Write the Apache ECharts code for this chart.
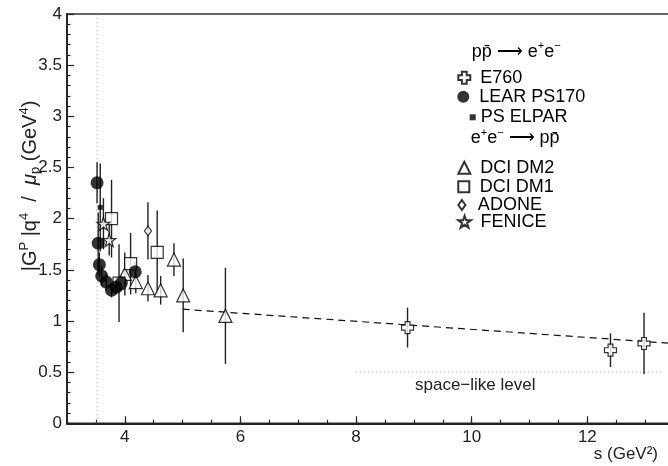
<!DOCTYPE html>
<html>
<head>
<meta charset="utf-8">
<script src="https://cdn.jsdelivr.net/npm/echarts@6/dist/echarts.min.js"></script>
<style>
  html, body { margin: 0; padding: 0; background: #fff; }
  #chart { width: 668px; height: 466px; }
</style>
</head>
<body>
<div id="chart"></div>
<script>
// s in GeV^2, |G|q^4/mu_p in GeV^4, symmetric errors
const e760S = [8.89, 12.40, 12.98];
const e760G = [0.935, 0.715, 0.78];
const e760E = [0.195, 0.165, 0.30];

const learS = [3.52, 3.54, 3.56, 3.60, 3.68, 3.77, 3.85, 3.94, 4.18];
const learG = [2.35, 1.76, 1.55, 1.44, 1.38, 1.30, 1.33, 1.37, 1.48];
const learE = [0.20, 0.30, 0.12, 0.10, 0.08, 0.07, 0.07, 0.08, 0.10];

const elparS = [3.575];
const elparG = [2.11];
const elparE = [0.43];

const dm2S = [4.00, 4.19, 4.40, 4.62, 4.85, 5.01, 5.74];
const dm2G = [1.46, 1.38, 1.32, 1.30, 1.60, 1.25, 1.05];
const dm2E = [0.21, 0.11, 0.13, 0.14, 0.16, 0.36, 0.47];

const dm1S = [3.77, 3.90, 4.10, 4.56];
const dm1G = [2.00, 1.37, 1.56, 1.67];
const dm1E = [0.38, 0.38, 0.30, 0.41];

const adoneS = [4.40];
const adoneG = [1.88];
const adoneE = [0.28];

const feniceS = [3.63, 3.73];
const feniceG = [1.95, 1.79];
const feniceE = [0.25, 0.15];

// straight-line fit through the time-like points above 5 GeV^2
const fitLine = [[5.0, 1.115], [14.0, 0.76]];
// physical threshold 4 m_p^2
const thresholdS = 3.52;
const spaceLikeLevel = 0.5;
const spaceLikeRange = [8.0, 13.3];

const xMajorTicks = [4, 6, 8, 10, 12, 14];

const FONT = 'Liberation Sans';

const pts = (s, g) => s.map((v, i) => [v, g[i]]);
const bars = (s, g, e) => s.map((v, i) => [v, g[i] - e[i], g[i] + e[i]]);

const crossPath = 'path://M3,0 L7,0 L7,3 L10,3 L10,7 L7,7 L7,10 L3,10 L3,7 L0,7 L0,3 L3,3 Z';
const starPath = 'path://M100,0 L122.3,69.3 L195.1,69.1 L136.1,111.7 L158.8,180.9 L100,138 L41.2,180.9 L63.9,111.7 L4.9,69.1 L77.7,69.3 Z';
const diamondPath = 'path://M5,0 L10,7 L5,14 L0,7 Z';
const trianglePath = 'path://M5,0 L10,10 L0,10 Z';
const squarePath = 'path://M0,0 L10,0 L10,10 L0,10 Z';

const openStyle = { color: '#fff', borderColor: '#000', borderWidth: 1.2 };

function errorBars(data) {
  return {
    type: 'custom',
    data: data,
    encode: { x: 0, y: [1, 2] },
    z: 2,
    silent: true,
    renderItem: function (params, api) {
      const a = api.coord([api.value(0), api.value(1)]);
      const b = api.coord([api.value(0), api.value(2)]);
      return {
        type: 'line',
        shape: { x1: a[0], y1: a[1], x2: b[0], y2: b[1] },
        style: { stroke: '#222', lineWidth: 1.4 }
      };
    }
  };
}

function marks(name, s, g, symbol, size, style, z) {
  return {
    type: 'scatter', name: name, data: pts(s, g),
    symbol: symbol, symbolSize: size, itemStyle: style, z: z || 5,
    silent: true
  };
}

function legendItem(name, left, centerY, w, h) {
  return {
    data: [name], left: left, top: centerY - 9, padding: 0,
    itemWidth: w, itemHeight: h, selectedMode: false, symbolKeepAspect: true,
    textStyle: { fontFamily: FONT, fontSize: 18, color: '#000', lineHeight: 18 }
  };
}

const chart = echarts.init(document.getElementById('chart'), null, { renderer: 'canvas' });

chart.setOption({
  animation: false,
  backgroundColor: '#fff',
  grid: {
    left: 67, top: 14, width: 636, height: 409.3,
    outerBoundsMode: 'none', containLabel: false,
    show: true, borderColor: '#333', borderWidth: 1.5
  },
  xAxis: [
    {
      type: 'value', min: 3, max: 14, interval: 0.5,
      axisLine: { lineStyle: { color: '#222', width: 1.8 } },
      axisTick: { inside: true, length: 3.5, lineStyle: { color: '#222', width: 1.2 } },
      axisLabel: {
        margin: 6, fontFamily: FONT, fontSize: 17, color: '#222',
        formatter: v => (v >= 4 && v % 2 === 0) ? String(v) : ''
      },
      splitLine: { show: false }
    },
    {
      type: 'value', min: 3, max: 14, position: 'bottom', offset: 0,
      axisLine: { show: false },
      axisTick: { inside: true, length: 7, customValues: xMajorTicks, lineStyle: { color: '#222', width: 1.2 } },
      axisLabel: { show: false },
      splitLine: { show: false }
    }
  ],
  yAxis: {
    type: 'value', min: 0, max: 4, interval: 0.5,
    axisLine: { show: true, lineStyle: { color: '#222', width: 1.8 } },
    axisTick: { show: true, inside: true, length: 7, lineStyle: { color: '#222', width: 1.2 } },
    minorTick: { show: true, splitNumber: 5, length: 3.5, lineStyle: { color: '#222', width: 1.2 } },
    axisLabel: { margin: 5, fontFamily: FONT, fontSize: 17, color: '#222' },
    splitLine: { show: false }
  },
  legend: [
    legendItem('E760', 457.3, 77.7, 22, 12),
    legendItem('LEAR PS170', 457.3, 96.7, 22, 12),
    legendItem('PS ELPAR', 469.7, 117.3, 6, 6),
    legendItem('DCI DM2', 457.3, 167.7, 22, 12),
    legendItem('DCI DM1', 457.3, 186.7, 22, 11),
    legendItem('ADONE', 457.3, 205, 22, 10),
    legendItem('FENICE', 457.3, 221.7, 22, 12)
  ],
  graphic: [
    {
      type: 'text', x: 30, y: 186, rotation: Math.PI / 2,
      style: {
        text: '{n||G}{s|P}{n| |q}{s|4}{n|  /  }{g|μ}{b|p}{n| (GeV}{s|4}{n|)}',
        align: 'center', verticalAlign: 'middle', fill: '#222',
        rich: {
          n: { fontFamily: FONT, fontSize: 20, lineHeight: 24, fill: '#222' },
          g: { fontFamily: FONT, fontSize: 20, lineHeight: 24, fontStyle: 'italic', fill: '#222' },
          s: { fontFamily: FONT, fontSize: 13, lineHeight: 14, verticalAlign: 'top', fill: '#222' },
          b: { fontFamily: FONT, fontSize: 13, lineHeight: 14, verticalAlign: 'bottom', fill: '#222' }
        }
      }
    },
    {
      type: 'text', x: 658, y: 454,
      style: { text: 's (GeV²)', align: 'right', verticalAlign: 'middle', fill: '#222', fontFamily: FONT, fontSize: 17 }
    },
    {
      type: 'text', x: 415, y: 385,
      style: { text: 'space−like level', align: 'left', verticalAlign: 'middle', fill: '#222', fontFamily: FONT, fontSize: 17 }
    },
    {
      type: 'text', x: 471.7, y: 51.7,
      style: {
        text: '{n|pp\u0304 ⟶ e}{s|+}{n|e}{s|−}',
        align: 'left', verticalAlign: 'middle',
        rich: {
          n: { fontFamily: FONT, fontSize: 18, lineHeight: 22, fill: '#000' },
          s: { fontFamily: FONT, fontSize: 11, lineHeight: 12, verticalAlign: 'top', fill: '#000' }
        }
      }
    },
    {
      type: 'text', x: 470.7, y: 138.3,
      style: {
        text: '{n|e}{s|+}{n|e}{s|−}{n| ⟶ pp\u0304}',
        align: 'left', verticalAlign: 'middle',
        rich: {
          n: { fontFamily: FONT, fontSize: 18, lineHeight: 22, fill: '#000' },
          s: { fontFamily: FONT, fontSize: 11, lineHeight: 12, verticalAlign: 'top', fill: '#000' }
        }
      }
    }
  ],
  series: [
    {
      type: 'line', data: [[thresholdS, 0], [thresholdS, 4]], symbol: 'none', silent: true,
      lineStyle: { color: '#999', width: 1, type: [1, 3] }, z: 1
    },
    {
      type: 'line', data: [[spaceLikeRange[0], spaceLikeLevel], [spaceLikeRange[1], spaceLikeLevel]],
      symbol: 'none', silent: true,
      lineStyle: { color: '#999', width: 1, type: [1, 3] }, z: 1
    },
    {
      type: 'line', data: fitLine, symbol: 'none', silent: true,
      lineStyle: { color: '#111', width: 1.2, type: [7, 5] }, z: 1
    },
    errorBars(bars(e760S, e760G, e760E)),
    errorBars(bars(learS, learG, learE)),
    errorBars(bars(elparS, elparG, elparE)),
    errorBars(bars(dm2S, dm2G, dm2E)),
    errorBars(bars(dm1S, dm1G, dm1E)),
    errorBars(bars(adoneS, adoneG, adoneE)),
    errorBars(bars(feniceS, feniceG, feniceE)),
    marks('DCI DM2', dm2S, dm2G, trianglePath, 13, openStyle),
    marks('DCI DM1', dm1S, dm1G, squarePath, 12, openStyle),
    marks('ADONE', adoneS, adoneG, diamondPath, [7, 10], openStyle),
    marks('FENICE', feniceS, feniceG, starPath, 13, openStyle),
    marks('E760', e760S, e760G, crossPath, 12, openStyle),
    marks('LEAR PS170', learS, learG, 'circle', 13, { color: '#000' }, 6),
    marks('PS ELPAR', elparS, elparG, squarePath, 5, { color: '#000' }, 6)
  ]
});
</script>
</body>
</html>
